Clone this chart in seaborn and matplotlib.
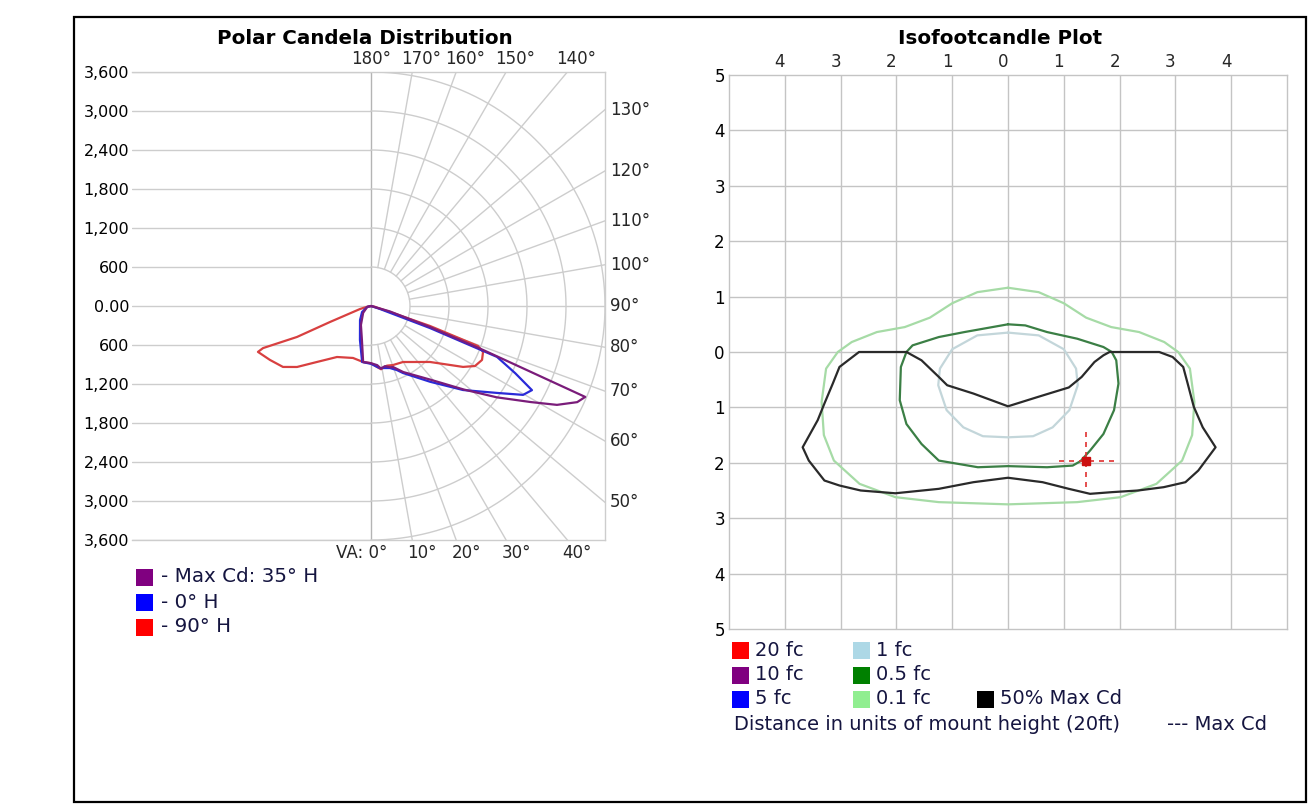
import numpy as np
import pandas as pd
import matplotlib
matplotlib.use("Agg")
import matplotlib.pyplot as plt
from matplotlib.patches import Rectangle
import seaborn as sns

sns.set_theme(style="white")
plt.rcParams["font.family"] = ["DejaVu Sans"]

W, H = 1315, 806

# ---------------- Polar candela data ----------------
# Vertical angle (deg from nadir, left side negative) and candela, in path order
maxcd_va = [-90, -76, -49, -28, -15, -8, 0, 6, 9, 13, 17, 20, 26, 39, 48, 54, 59, 62, 65, 67,
            67.6, 68.6, 70.4, 74, 90]
maxcd_cd = [0, 60, 160, 330, 540, 870, 880, 915, 975, 950, 985, 1000, 1130, 1460, 1920, 2390, 2870,
            3240, 3500, 3580, 2650, 1850, 960, 300, 0]

h0_va = [-90, -76, -56, -38, -18, -9, 0, 8, 17, 22, 25.5, 38, 47.6, 55.4, 59.7, 62.4, 65, 68,
         69.5, 71.6, 90]
h0_cd = [0, 60, 166, 274, 550, 872, 890, 964, 998, 1063, 1142, 1480, 1917, 2355, 2710, 2794, 2450,
         2091, 969, 146, 0]

h90_va = [-90, -80, -74.7, -68.7, -67.3, -68.7, -67.9, -61.9, -55.3, -50.5, -44, -33.7, -19.1, -8.1,
          0, 5.6, 9, 11, 15, 20.4, 29.7, 46.5, 56.5, 60, 64.1, 67.7, 69.5, 71.3, 72.5, 80, 90]
h90_cd = [0, 50, 175, 677, 1234, 1783, 1877, 1762, 1647, 1475, 1197, 943, 846, 870, 880, 943, 985,
          971, 950, 969, 992, 1251, 1698, 1847, 1899, 1863, 1757, 958, 306, 50, 0]

cd_ticks = [3600, 3000, 2400, 1800, 1200, 600, 0, -600, -1200, -1800, -2400, -3000, -3600]
cd_tick_labels = ["3,600", "3,000", "2,400", "1,800", "1,200", "600", "0.00",
                  "600", "1,200", "1,800", "2,400", "3,000", "3,600"]
ring_values = [600, 1200, 1800, 2400, 3000, 3600]
radial_angles = list(range(10, 180, 10))
top_angles = [180, 170, 160, 150, 140]
right_angles = [130, 120, 110, 100, 90, 80, 70, 60, 50]
bottom_angles = [0, 10, 20, 30, 40]
polar_legend = ["- Max Cd: 35° H", "- 0° H", "- 90° H"]
polar_colors = ["#7a1c7a", "#2a2ad8", "#d84040"]
polar_swatches = ["#800080", "#0000ff", "#ff0000"]

# ---------------- Isofootcandle data (units of mount height) ----------------
iso50_x = [-1.82, -2.67, -3.02, -3.14, -3.29, -3.41, -3.68, -3.57, -3.29, -3.02, -2.64, -2.02, -1.24,
           -0.62, 0, 0.62, 1.09, 1.47, 1.86, 2.33, 2.79, 3.18, 3.41, 3.72, 3.49, 3.33, 3.22, 3.14,
           2.95, 2.71, 1.82, 1.71, 1.55, 1.32, 1.09, 0.54, 0, -0.62, -1.09, -1.24, -1.55, -1.82]
iso50_y = [0, 0, -0.27, -0.57, -0.93, -1.23, -1.72, -1.96, -2.32, -2.41, -2.5, -2.55, -2.47,
           -2.35, -2.27, -2.35, -2.47, -2.56, -2.53, -2.5, -2.44, -2.35, -2.14, -1.72, -1.36, -0.99,
           -0.57, -0.27, -0.09, 0, 0, -0.06, -0.18, -0.45, -0.64, -0.81, -0.98, -0.75, -0.6, -0.45,
           -0.15, 0]

iso05_x = [0, -0.78, -1.24, -1.71, -1.82, -1.92, -1.94, -1.82, -1.55, -1.24, -0.54, 0, 0.7, 1.16,
           1.3, 1.47, 1.71, 1.9, 1.98, 1.94, 1.86, 1.71, 1.24, 0.7, 0.31, 0]
iso05_y = [0.5, 0.36, 0.27, 0.12, 0, -0.27, -0.87, -1.3, -1.66, -1.96, -2.08, -2.06, -2.08, -2.05,
           -1.97, -1.78, -1.48, -1.05, -0.57, -0.15, 0, 0.09, 0.24, 0.36, 0.48, 0.5]

iso01_x = [0, 0.55, 1.0, 1.4, 1.85, 2.35, 2.8, 3.05, 3.26, 3.34, 3.3, 3.12, 2.66, 2.02, 1.24, 0,
           -1.24, -2.02, -2.66, -3.12, -3.3, -3.34, -3.26, -3.05, -2.8, -2.35, -1.85, -1.4, -1.0,
           -0.55, 0]
iso01_y = [1.16, 1.08, 0.88, 0.62, 0.45, 0.36, 0.18, 0.0, -0.3, -0.9, -1.5, -1.96, -2.38, -2.62,
           -2.71, -2.75, -2.71, -2.62, -2.38, -1.96, -1.5, -0.9, -0.3, 0.0, 0.18, 0.36, 0.45, 0.62,
           0.88, 1.08, 1.16]

iso1_x = [0, 0.55, 1.0, 1.22, 1.25, 1.1, 0.8, 0.45, 0, -0.45, -0.8, -1.1, -1.25, -1.22, -1.0,
          -0.55, 0]
iso1_y = [0.35, 0.3, 0.05, -0.3, -0.6, -1.05, -1.36, -1.52, -1.54, -1.52, -1.36, -1.05, -0.6, -0.3,
          0.05, 0.3, 0.35]

max_cd_x, max_cd_y = 1.4, -1.97
iso_ticks = [-4, -3, -2, -1, 0, 1, 2, 3, 4]
iso_yticks = [5, 4, 3, 2, 1, 0, -1, -2, -3, -4, -5]

iso_legend = [("20 fc", "#ff0000"), ("10 fc", "#800080"), ("5 fc", "#0000ff"),
              ("1 fc", "#add8e6"), ("0.5 fc", "#008000"), ("0.1 fc", "#90ee90"),
              ("50% Max Cd", "#000000")]

GRID = "#cdcdcd"
TXT = "#151540"


def fx(px):
    return px / W


def fy(py):
    return 1 - py / H


def line(ax, xs, ys, color, lw=1.6, zorder=3, alpha=1.0):
    df = pd.DataFrame({"x": xs, "y": ys})
    sns.lineplot(data=df, x="x", y="y", sort=False, estimator=None, color=color,
                 linewidth=lw, ax=ax, zorder=zorder, alpha=alpha, legend=False)


fig = plt.figure(figsize=(W / 100, H / 100), dpi=100)
fig.patch.set_facecolor("white")

# outer frame
fig.add_artist(Rectangle((fx(74), fy(802)), fx(1306 - 74), (802 - 17) / H, fill=False,
                         edgecolor="black", linewidth=1.6, transform=fig.transFigure))

# ================= Polar candela distribution =================
ax1 = fig.add_axes([fx(132), fy(540), fx(605 - 132), (540 - 72) / H])
XMIN, RMAX = -3677, 3600
ax1.set_facecolor("white")
for s in ["top", "right", "bottom"]:
    ax1.spines[s].set_color(GRID)
    ax1.spines[s].set_linewidth(1.0)
ax1.spines["left"].set_visible(False)

# horizontal candela lines on the left half
for v in cd_ticks:
    ax1.plot([XMIN, 0], [v, v], color=GRID, lw=1.0, zorder=1)
ax1.plot([0, 0], [-RMAX, RMAX], color="#b4b4b4", lw=1.0, zorder=1)

# rings and radials on the right half
t = np.linspace(0, np.pi, 300)
for R in ring_values:
    ax1.plot(R * np.sin(t), -R * np.cos(t), color=GRID, lw=1.0, zorder=1)
for a in radial_angles:
    ar = np.radians(a)
    ax1.plot([600 * np.sin(ar), 8000 * np.sin(ar)], [-600 * np.cos(ar), -8000 * np.cos(ar)],
             color=GRID, lw=1.0, zorder=1)

for va, cd, col in [(h90_va, h90_cd, polar_colors[2]), (h0_va, h0_cd, polar_colors[1]),
                    (maxcd_va, maxcd_cd, polar_colors[0])]:
    r = np.radians(va)
    cdv = np.asarray(cd, dtype=float)
    line(ax1, cdv * np.sin(r), -cdv * np.cos(r), col, lw=1.6)

ax1.set_xlim(XMIN, RMAX)
ax1.set_ylim(-RMAX, RMAX)
ax1.set_xlabel("")
ax1.set_ylabel("")
ax1.set_xticks([])
ax1.set_yticks(cd_ticks)
ax1.set_yticklabels(cd_tick_labels, fontsize=11.5, color="black")
ax1.tick_params(axis="y", length=0, pad=2)

PT = 0.72  # points per pixel
for a in top_angles:
    xd = RMAX * np.tan(np.radians(180 - a))
    off = 0 if a == 180 else 9
    ax1.annotate(f"{a}°", xy=(xd, RMAX), xycoords="data", xytext=(off * PT, 13 * PT),
                 textcoords="offset points", ha="center", va="center", fontsize=12,
                 annotation_clip=False)
for a in right_angles:
    yd = 0.0 if a == 90 else -RMAX / np.tan(np.radians(a))
    ax1.annotate(f"{a}°", xy=(RMAX, yd), xycoords="data", xytext=(5 * PT, 0),
                 textcoords="offset points", ha="left", va="center", fontsize=12,
                 annotation_clip=False)
for a in bottom_angles:
    xd = RMAX * np.tan(np.radians(a))
    if a == 0:
        ax1.annotate("VA: 0°", xy=(xd, -RMAX), xycoords="data", xytext=(16 * PT, -13 * PT),
                     textcoords="offset points", ha="right", va="center", fontsize=12,
                     annotation_clip=False)
    else:
        ax1.annotate(f"{a}°", xy=(xd, -RMAX), xycoords="data", xytext=(10 * PT, -13 * PT),
                     textcoords="offset points", ha="center", va="center", fontsize=12,
                     annotation_clip=False)

fig.text(fx(365), fy(38), "Polar Candela Distribution", ha="center", va="center",
         fontsize=14.3, fontweight="bold", color="black")

for i, (lab, sw) in enumerate(zip(polar_legend, polar_swatches)):
    yc = 577 + 25 * i
    fig.add_artist(Rectangle((fx(136), fy(yc + 8.5)), fx(17), 17 / H, facecolor=sw,
                             edgecolor="none", transform=fig.transFigure))
    fig.text(fx(161), fy(yc), lab, ha="left", va="center", fontsize=14.3, color=TXT)

# ================= Isofootcandle plot =================
ax2 = fig.add_axes([fx(729), fy(629), fx(1287 - 729), (629 - 75) / H])
ax2.set_facecolor("white")
for s in ax2.spines.values():
    s.set_color("#c4c4c4")
    s.set_linewidth(1.0)
for v in iso_ticks:
    ax2.axvline(v, color="#c4c4c4", lw=1.0, zorder=1)
    ax2.axhline(v, color="#c4c4c4", lw=1.0, zorder=1)

line(ax2, iso01_x, iso01_y, "#a6dba6", lw=1.6, zorder=2)
line(ax2, iso1_x, iso1_y, "#c3d6da", lw=1.6, zorder=2)
line(ax2, iso05_x, iso05_y, "#3b7f45", lw=1.6, zorder=3)
line(ax2, iso50_x, iso50_y, "#2a2a2a", lw=1.6, zorder=4)

# maximum candela marker
ax2.plot([max_cd_x, max_cd_x], [max_cd_y + 0.52, max_cd_y - 0.5], color="#e03030", lw=1.2,
         ls=(0, (3, 3)), zorder=5)
ax2.plot([max_cd_x - 0.48, max_cd_x + 0.5], [max_cd_y, max_cd_y], color="#e03030", lw=1.2,
         ls=(0, (3, 3)), zorder=5)
ax2.plot([max_cd_x], [max_cd_y], marker="s", ms=6, color="#cc1010", zorder=6)

ax2.set_xlim(-5, 5)
ax2.set_ylim(-5, 5)
ax2.set_xlabel("")
ax2.set_ylabel("")
ax2.set_xticks([])
ax2.set_yticks(iso_yticks)
ax2.set_yticklabels([str(abs(v)) for v in iso_yticks], fontsize=12, color="black")
ax2.tick_params(axis="y", length=0, pad=3)
for v in iso_ticks:
    ax2.annotate(str(abs(v)), xy=(v, 5), xycoords="data", xytext=(-5 * PT, 13 * PT),
                 textcoords="offset points", ha="center", va="center", fontsize=12,
                 annotation_clip=False)

fig.text(fx(1000), fy(38), "Isofootcandle Plot", ha="center", va="center",
         fontsize=14.3, fontweight="bold", color="black")

# legend grid: two columns plus the 50% entry
leg_pos = [(732, 650), (732, 675), (732, 699), (853, 650), (853, 675), (853, 699), (977, 699)]
for (lab, col), (x0, yc) in zip(iso_legend, leg_pos):
    fig.add_artist(Rectangle((fx(x0), fy(yc + 8.5)), fx(17), 17 / H, facecolor=col,
                             edgecolor="none", transform=fig.transFigure))
    fig.text(fx(x0 + 23), fy(yc), lab, ha="left", va="center", fontsize=14, color=TXT)

fig.text(fx(734), fy(725), "Distance in units of mount height (20ft)", ha="left", va="center",
         fontsize=14, color=TXT)
fig.text(fx(1167), fy(725), "--- Max Cd", ha="left", va="center", fontsize=14, color=TXT)

fig.savefig("out.png", dpi=100, facecolor="white")
